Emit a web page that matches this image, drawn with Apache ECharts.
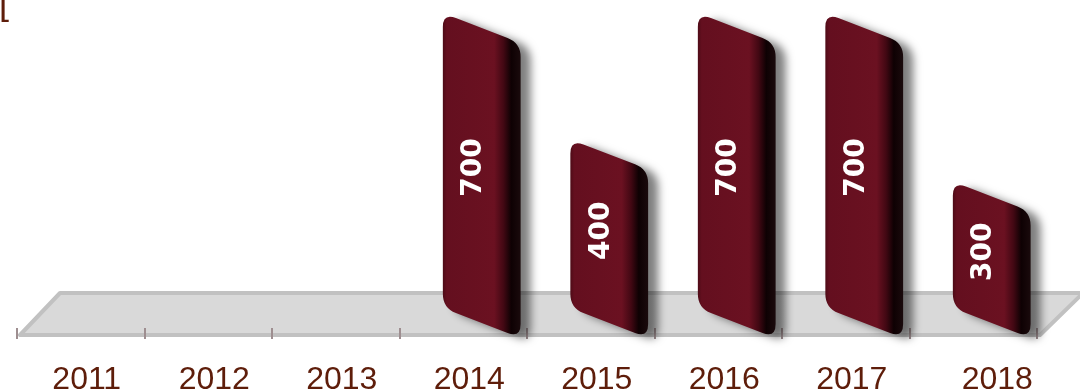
<!DOCTYPE html>
<html>
<head>
<meta charset="utf-8">
<script src="https://cdn.jsdelivr.net/npm/echarts@6/dist/echarts.min.js"></script>
<style>
  html, body { margin: 0; padding: 0; background: #ffffff; }
  #chart { width: 1080px; height: 392px; }
</style>
</head>
<body>
<div id="chart"></div>
<script>
// Yearly values
const years = ['2011', '2012', '2013', '2014', '2015', '2016', '2017', '2018'];
const amounts = [null, null, null, 700, 400, 700, 700, 300];
const valueMax = 700;

// Slanted bar with rounded corners (a perspective-style column)
const RoundSkewBar = echarts.graphic.extendShape({
  shape: { pts: [], r: 12 },
  buildPath: function (ctx, shape) {
    const p = shape.pts, r = shape.r, n = p.length;
    if (!n) return;
    function toward(a, b, d) {
      const dx = b[0] - a[0], dy = b[1] - a[1];
      const len = Math.sqrt(dx * dx + dy * dy) || 1;
      const k = Math.min(d, len / 2) / len;
      return [a[0] + dx * k, a[1] + dy * k];
    }
    for (let i = 0; i < n; i++) {
      const cur = p[i], prev = p[(i - 1 + n) % n], next = p[(i + 1) % n];
      const s = toward(cur, prev, r), e = toward(cur, next, r);
      if (i === 0) ctx.moveTo(s[0], s[1]); else ctx.lineTo(s[0], s[1]);
      ctx.quadraticCurveTo(cur[0], cur[1], e[0], e[1]);
    }
    ctx.closePath();
  }
});
echarts.graphic.registerShape('roundSkewBar', RoundSkewBar);

const chart = echarts.init(document.getElementById('chart'), null, { renderer: 'canvas' });

function renderBar(params, api) {
  const v = api.value(1);
  if (v == null || isNaN(v)) return null;
  const idx = api.value(0);
  const base = api.coord([idx, 0]);
  const top = api.coord([idx, v]);
  const band = api.size([1, 0])[0];
  const w = band * 0.61;
  const cx = base[0] + band * 0.145;
  const x0 = cx - w / 2, x1 = cx + w / 2;
  const skew = w * 0.385;
  const pts = [
    [x0, top[1]],
    [x1, top[1] + skew],
    [x1, base[1] + skew],
    [x0, base[1]]
  ];
  return {
    type: 'group',
    children: [
      {
        type: 'roundSkewBar',
        shape: { pts: pts, r: 14 },
        style: {
          fill: new echarts.graphic.LinearGradient(0, 0, 1, 0, [
            { offset: 0, color: '#4e0b17' },
            { offset: 0.05, color: '#640f1f' },
            { offset: 0.66, color: '#6b1121' },
            { offset: 0.78, color: '#420813' },
            { offset: 0.88, color: '#0e0103' },
            { offset: 1, color: '#1a0a0c' }
          ]),
          shadowBlur: 9,
          shadowOffsetX: 10,
          shadowOffsetY: 4,
          shadowColor: 'rgba(0,0,0,0.5)'
        }
      },
      {
        type: 'text',
        x: cx - 8,
        y: (top[1] + base[1]) / 2 + 7,
        rotation: Math.PI / 2,
        z2: 10,
        style: {
          text: String(v),
          fill: '#ffffff',
          font: 'bold 28px "DejaVu Sans"',
          align: 'center',
          verticalAlign: 'middle'
        }
      }
    ]
  };
}

const labelColor = '#5e1d0a';

const option = {
  backgroundColor: '#ffffff',
  animation: false,
  grid: [
    // plotting area for the columns
    { left: 17, right: 43, top: 13, bottom: 84, containLabel: false, outerBoundsMode: 'none' },
    // the category ruler along the front edge of the floor
    { left: 17, right: 43, top: 13, bottom: 64, containLabel: false, outerBoundsMode: 'none' }
  ],
  graphic: [
    {
      type: 'polygon',
      z: 0,
      shape: { points: [[20, 335], [1040, 335], [1083, 293], [60, 293]] },
      style: { fill: '#d9d9d9', stroke: '#c1c1c1', lineWidth: 4, lineJoin: 'round' }
    },
    {
      type: 'text',
      left: -1,
      top: -14,
      style: { text: '[', fill: labelColor, font: '36px "Liberation Sans"' }
    }
  ],
  xAxis: [
    {
      type: 'category',
      gridIndex: 0,
      data: years,
      boundaryGap: true,
      show: false
    },
    {
      type: 'category',
      gridIndex: 1,
      data: years,
      boundaryGap: true,
      z: 3,
      axisLine: { show: false },
      axisTick: { show: true, interval: 0, length: 11, lineStyle: { color: '#9e8e90', width: 2 } },
      axisLabel: {
        interval: 0,
        margin: 36,
        color: labelColor,
        fontFamily: 'Liberation Sans',
        fontSize: 32,
        formatter: function (v) { return v === '2018' ? '{f|' + v + '}' : '{n|' + v + '}'; },
        rich: {
          n: { color: labelColor, fontFamily: 'Liberation Sans', fontSize: 32, padding: [0, 0, 0, 12] },
          f: { color: labelColor, fontFamily: 'Liberation Sans', fontSize: 32, padding: [0, 0, 0, 48] }
        }
      },
      splitLine: { show: false }
    }
  ],
  yAxis: [
    { type: 'value', gridIndex: 0, min: 0, max: valueMax, show: false },
    { type: 'value', gridIndex: 1, min: 0, max: valueMax, show: false }
  ],
  series: [
    {
      type: 'custom',
      xAxisIndex: 0,
      yAxisIndex: 0,
      z: 5,
      renderItem: renderBar,
      encode: { x: 0, y: 1 },
      data: years.map(function (y, i) { return [i, amounts[i]]; })
    }
  ]
};

chart.setOption(option);
</script>
</body>
</html>
